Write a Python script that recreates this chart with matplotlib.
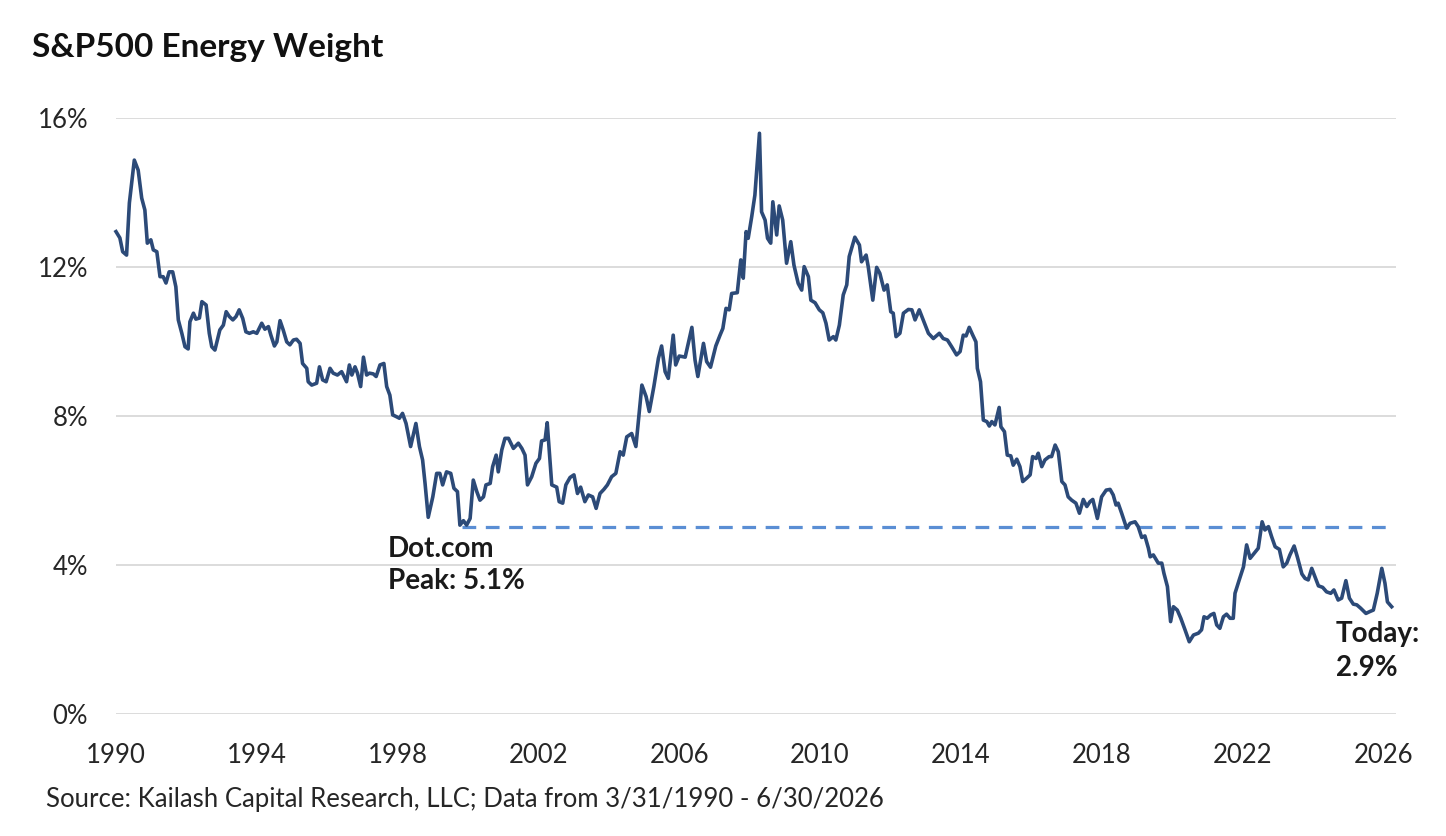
import matplotlib
matplotlib.use("Agg")
import matplotlib.pyplot as plt
from matplotlib.ticker import FixedLocator, FuncFormatter

# ---- data (decimal year, S&P 500 energy weight %) ----
dates = [
    1990.17, 1990.28, 1990.36, 1990.47, 1990.55, 1990.69, 1990.80, 1990.90, 1990.99, 1991.06,
    1991.16, 1991.23, 1991.33, 1991.42, 1991.51, 1991.59, 1991.68, 1991.78, 1991.87, 1991.94,
    1992.04, 1992.13, 1992.22, 1992.27, 1992.37, 1992.44, 1992.54, 1992.61, 1992.73, 1992.82,
    1992.89, 1992.98, 1993.12, 1993.22, 1993.30, 1993.39, 1993.49, 1993.58, 1993.67, 1993.77,
    1993.86, 1993.96, 1994.07, 1994.17, 1994.31, 1994.40, 1994.50, 1994.57, 1994.67, 1994.74,
    1994.83, 1994.92, 1995.02, 1995.11, 1995.21, 1995.30, 1995.40, 1995.47, 1995.59, 1995.63,
    1995.73, 1995.87, 1995.95, 1996.04, 1996.14, 1996.25, 1996.34, 1996.46, 1996.58, 1996.72,
    1996.80, 1996.87, 1996.96, 1997.03, 1997.12, 1997.20, 1997.29, 1997.37, 1997.48, 1997.56,
    1997.67, 1997.78, 1997.86, 1997.95, 1998.03, 1998.14, 1998.22, 1998.31, 1998.41, 1998.54,
    1998.69, 1998.79, 1998.88, 1998.95, 1999.04, 1999.17, 1999.28, 1999.37, 1999.45, 1999.56,
    1999.68, 1999.77, 1999.87, 1999.94, 2000.04, 2000.13, 2000.23, 2000.32, 2000.42, 2000.51,
    2000.61, 2000.68, 2000.80, 2000.87, 2000.97, 2001.03, 2001.13, 2001.22, 2001.32, 2001.46,
    2001.60, 2001.70, 2001.79, 2001.86, 2001.98, 2002.10, 2002.20, 2002.26, 2002.36, 2002.42,
    2002.55, 2002.69, 2002.76, 2002.86, 2002.95, 2003.07, 2003.18, 2003.28, 2003.37, 2003.49,
    2003.59, 2003.71, 2003.81, 2003.92, 2004.03, 2004.13, 2004.25, 2004.37, 2004.49, 2004.58,
    2004.68, 2004.82, 2004.94, 2005.11, 2005.23, 2005.32, 2005.45, 2005.58, 2005.67, 2005.77,
    2005.86, 2006.00, 2006.07, 2006.17, 2006.34, 2006.53, 2006.62, 2006.70, 2006.86, 2006.95,
    2007.06, 2007.21, 2007.33, 2007.41, 2007.50, 2007.59, 2007.66, 2007.82, 2007.92, 2007.99,
    2008.07, 2008.13, 2008.23, 2008.32, 2008.45, 2008.51, 2008.61, 2008.68, 2008.77, 2008.83,
    2008.94, 2009.01, 2009.11, 2009.22, 2009.34, 2009.43, 2009.55, 2009.65, 2009.72, 2009.84,
    2009.91, 2010.03, 2010.15, 2010.25, 2010.34, 2010.43, 2010.55, 2010.62, 2010.72, 2010.83,
    2010.93, 2011.00, 2011.16, 2011.29, 2011.35, 2011.48, 2011.54, 2011.67, 2011.78, 2011.87,
    2011.99, 2012.08, 2012.18, 2012.25, 2012.33, 2012.44, 2012.54, 2012.68, 2012.78, 2012.87,
    2012.99, 2013.10, 2013.25, 2013.39, 2013.56, 2013.67, 2013.79, 2013.91, 2014.05, 2014.15,
    2014.24, 2014.32, 2014.41, 2014.51, 2014.60, 2014.64, 2014.73, 2014.81, 2014.91, 2014.98,
    2015.05, 2015.14, 2015.26, 2015.31, 2015.41, 2015.49, 2015.59, 2015.66, 2015.76, 2015.85,
    2015.93, 2016.04, 2016.14, 2016.21, 2016.31, 2016.37, 2016.47, 2016.56, 2016.68, 2016.75,
    2016.85, 2016.94, 2017.04, 2017.13, 2017.22, 2017.32, 2017.44, 2017.54, 2017.65, 2017.75,
    2017.84, 2017.92, 2018.05, 2018.17, 2018.30, 2018.41, 2018.50, 2018.58, 2018.64, 2018.74,
    2018.88, 2018.98, 2019.12, 2019.21, 2019.31, 2019.40, 2019.50, 2019.55, 2019.64, 2019.78,
    2019.88, 2019.94, 2020.04, 2020.13, 2020.21, 2020.32, 2020.42, 2020.54, 2020.66, 2020.78,
    2020.92, 2021.01, 2021.08, 2021.17, 2021.27, 2021.36, 2021.44, 2021.53, 2021.63, 2021.72,
    2021.82, 2021.91, 2021.96, 2022.08, 2022.20, 2022.29, 2022.39, 2022.50, 2022.62, 2022.73,
    2022.81, 2022.91, 2023.00, 2023.10, 2023.22, 2023.33, 2023.43, 2023.52, 2023.64, 2023.73,
    2023.86, 2023.95, 2024.04, 2024.14, 2024.23, 2024.33, 2024.45, 2024.56, 2024.68, 2024.77,
    2024.89, 2024.99, 2025.11, 2025.21, 2025.32, 2025.42, 2025.53, 2025.68, 2025.79, 2025.89,
    2026.00, 2026.13, 2026.22, 2026.29, 2026.41,
]
weights = [
    12.95, 12.78, 12.41, 12.32, 13.72, 14.87, 14.60, 13.85, 13.53, 12.64,
    12.73, 12.46, 12.41, 11.74, 11.74, 11.57, 11.87, 11.87, 11.47, 10.58,
    10.22, 9.86, 9.80, 10.53, 10.76, 10.60, 10.63, 11.07, 10.98, 10.22,
    9.86, 9.77, 10.31, 10.44, 10.80, 10.67, 10.58, 10.67, 10.85, 10.62,
    10.26, 10.22, 10.26, 10.22, 10.49, 10.33, 10.40, 10.17, 9.88, 9.99,
    10.56, 10.31, 9.99, 9.91, 10.04, 10.06, 9.95, 9.41, 9.28, 8.92,
    8.83, 8.88, 9.32, 8.97, 8.92, 9.28, 9.15, 9.10, 9.19, 8.92,
    9.37, 9.10, 9.32, 9.15, 8.79, 9.58, 9.10, 9.15, 9.13, 9.06,
    9.37, 9.41, 8.79, 8.56, 8.03, 7.98, 7.94, 8.07, 7.80, 7.18,
    7.80, 7.18, 6.82, 6.19, 5.28, 5.83, 6.46, 6.46, 6.15, 6.50,
    6.46, 6.06, 5.97, 5.07, 5.19, 5.07, 5.25, 6.28, 5.97, 5.74,
    5.83, 6.15, 6.19, 6.64, 6.95, 6.50, 7.09, 7.40, 7.40, 7.13,
    7.27, 7.13, 6.95, 6.15, 6.37, 6.73, 6.86, 7.33, 7.36, 7.82,
    6.15, 6.09, 5.70, 5.66, 6.15, 6.35, 6.42, 5.92, 6.09, 5.70,
    5.88, 5.83, 5.52, 5.92, 6.03, 6.15, 6.37, 6.46, 7.04, 6.95,
    7.44, 7.53, 7.18, 8.83, 8.52, 8.12, 8.79, 9.55, 9.88, 9.19,
    9.01, 10.17, 9.37, 9.61, 9.58, 10.38, 9.50, 9.06, 9.95, 9.46,
    9.31, 9.88, 10.17, 10.35, 10.89, 10.85, 11.29, 11.31, 12.19, 11.70,
    12.95, 12.77, 13.35, 13.93, 15.59, 13.48, 13.26, 12.77, 12.64, 13.75,
    12.86, 13.64, 13.26, 12.10, 12.68, 12.05, 11.56, 11.38, 12.01, 11.74,
    11.11, 11.04, 10.85, 10.77, 10.49, 10.04, 10.13, 10.04, 10.44, 11.25,
    11.52, 12.28, 12.80, 12.59, 12.14, 12.32, 12.01, 11.11, 11.99, 11.83,
    11.38, 11.52, 10.80, 10.76, 10.13, 10.22, 10.76, 10.86, 10.85, 10.58,
    10.85, 10.58, 10.22, 10.08, 10.22, 10.08, 10.04, 9.86, 9.64, 9.73,
    10.17, 10.15, 10.38, 10.17, 9.99, 9.28, 8.92, 7.89, 7.85, 7.73,
    7.85, 7.76, 8.23, 7.71, 7.58, 6.95, 6.93, 6.68, 6.84, 6.64,
    6.24, 6.33, 6.42, 6.91, 6.86, 7.00, 6.64, 6.82, 6.91, 6.91,
    7.22, 7.04, 6.24, 6.15, 5.83, 5.74, 5.66, 5.39, 5.76, 5.57,
    5.70, 5.76, 5.25, 5.83, 6.01, 6.03, 5.88, 5.61, 5.66, 5.39,
    4.99, 5.12, 5.16, 5.03, 4.74, 4.78, 4.45, 4.22, 4.27, 4.05,
    4.05, 3.78, 3.42, 2.48, 2.88, 2.79, 2.57, 2.26, 1.94, 2.12,
    2.17, 2.26, 2.61, 2.57, 2.66, 2.70, 2.39, 2.30, 2.61, 2.68,
    2.57, 2.57, 3.24, 3.60, 3.95, 4.54, 4.18, 4.31, 4.45, 5.16,
    4.94, 5.03, 4.76, 4.49, 4.42, 3.95, 4.05, 4.27, 4.51, 4.22,
    3.76, 3.64, 3.60, 3.91, 3.69, 3.44, 3.40, 3.28, 3.24, 3.33,
    3.06, 3.11, 3.58, 3.11, 2.95, 2.93, 2.84, 2.70, 2.75, 2.79,
    3.24, 3.91, 3.51, 3.01, 2.88,
]

year_labels = ["1990", "1994", "1998", "2002", "2006", "2010", "2014", "2018", "2022", "2026"]
y_ticks = [0, 4, 8, 12, 16]

dotcom_level = 5.02
dotcom_start = 2000.0
title = "S&P500 Energy Weight"
source = "Source: Kailash Capital Research, LLC; Data from 3/31/1990 - 6/30/2026"
dotcom_lines = ["Dot.com", "Peak: 5.1%"]
today_lines = ["Today:", "2.9%"]

# ---- figure ----
W, H = 1446, 836
fig = plt.figure(figsize=(W / 100, H / 100), dpi=100)
fig.patch.set_facecolor("white")
plt.rcParams["font.family"] = ["Lato", "DejaVu Sans"]

ax = fig.add_axes([116 / W, 1 - 714 / H, (1396 - 116) / W, (714 - 118) / H])
ax.set_xlim(dates[0], dates[0] + 1280 / 35.2)
ax.set_ylim(0, 16)

for s in ax.spines.values():
    s.set_visible(False)

ax.yaxis.set_major_locator(FixedLocator(y_ticks))
ax.yaxis.set_major_formatter(FuncFormatter(lambda v, p: f"{v:.0f}%"))
ax.grid(axis="y", color="#D9D9D9", linewidth=1.3, zorder=0)
ax.set_axisbelow(True)

tick_pos = [dates[0] + 4 * i for i in range(len(year_labels))]
ax.xaxis.set_major_locator(FixedLocator(tick_pos))
ax.set_xticklabels(year_labels)

ax.tick_params(axis="both", length=0, labelsize=18.5, labelcolor="#262626")
ax.tick_params(axis="x", pad=21)
ax.tick_params(axis="y", pad=20)

ax.plot(dates, weights, color="#2C4A78", linewidth=2.6, solid_joinstyle="round",
        zorder=3, clip_on=False)

ax.plot([dotcom_start, dates[-1]], [dotcom_level, dotcom_level], color="#5A8ED4",
        linewidth=2.3, linestyle=(0, (4.3, 3.0)), zorder=2, dash_capstyle="butt")

# annotation baselines (in data units)
def y_of(px):
    return (714 - px) / 37.25

ann_kw = dict(fontsize=20, fontweight="bold", color="#1A1A1A", ha="left", va="baseline")
ax.text(1997.90, y_of(557), dotcom_lines[0], **ann_kw)
ax.text(1997.90, y_of(589), dotcom_lines[1], **ann_kw)
ax.text(2024.83, y_of(642), today_lines[0], **ann_kw)
ax.text(2024.83, y_of(676), today_lines[1], **ann_kw)

fig.text(32 / W, 1 - 48 / H, title, fontsize=24, fontweight="bold", color="#111111",
         ha="left", va="center")
fig.text(46 / W, 1 - 800 / H, source, fontsize=18.5, color="#262626",
         ha="left", va="center")

fig.savefig("out.png", dpi=100, facecolor="white")
